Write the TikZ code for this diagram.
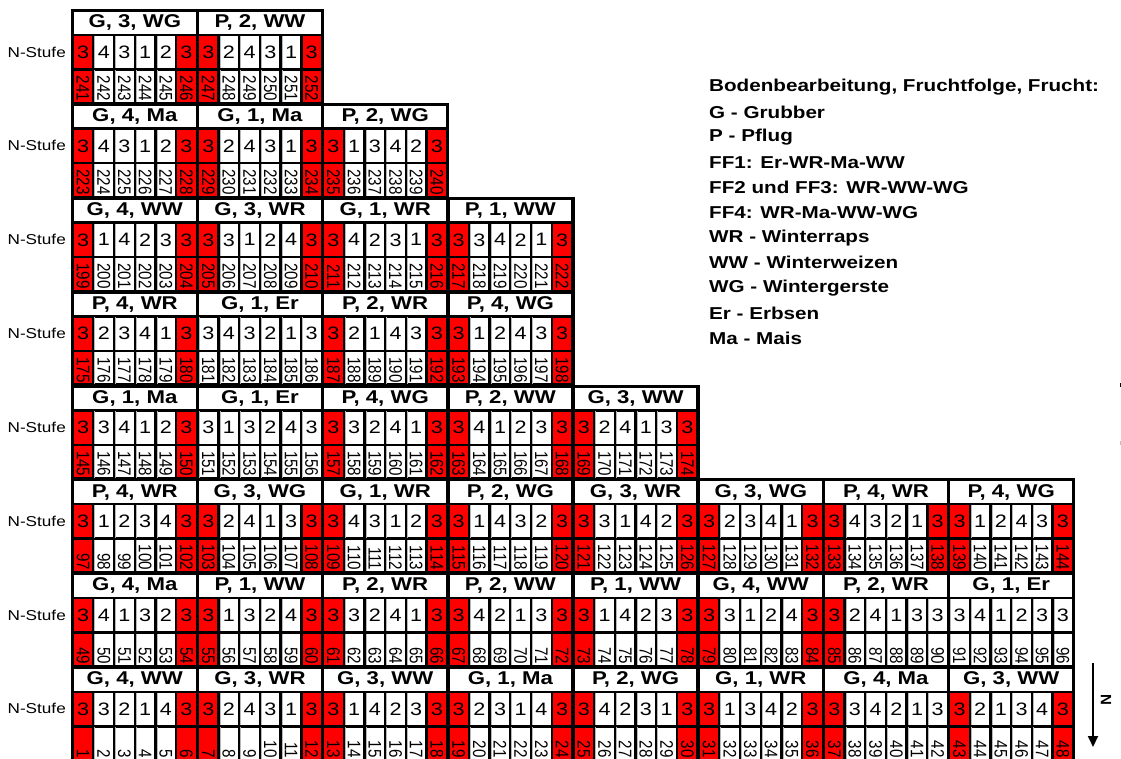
\documentclass[tikz,border=0pt]{standalone}
\usepackage{fontspec}
\setmainfont{Liberation Sans}
\newfontfamily\hdfont{Liberation Sans}[FakeStretch=1.2]
\newfontfamily\numfont{Liberation Sans}[FakeStretch=0.8333]
\usetikzlibrary{arrows.meta}
\definecolor{plotred}{RGB}{255,0,0}

\tikzset{
  tierbg/.style={fill=black},
  hdr/.style={fill=white, inner sep=0pt, minimum width=121.6pt, minimum height=21.5pt,
    anchor=north west, font=\hdfont\bfseries\fontsize{18.5}{18.5}\selectfont},
  ncell/.style={inner sep=0pt, minimum width=18.2pt, minimum height=32pt,
    anchor=north west, font=\hdfont\fontsize{18}{18}\selectfont},
  pcell/.style={inner sep=0pt, minimum width=18.2pt, minimum height=31.3pt, anchor=north west},
  pnum/.style={rotate=-90, anchor=east, inner sep=0pt, font=\numfont\fontsize{18.2}{18.2}\selectfont},
  nlab/.style={anchor=east, inner sep=0pt, font=\hdfont\fontsize{14.3}{14.3}\selectfont},
  legend/.style={anchor=west, inner sep=0pt, font=\hdfont\bfseries\fontsize{17.2}{17.2}\selectfont},
  shade/.style={draw=gray!55, line width=0.8pt},
}

% #1 row from top, #2 block index, #3 first plot number, #4 tillage, #5 FF, #6 crop, #7 cells
\newcommand\plotblock[7]{%
  \pgfmathsetmacro\bx{73.8+125.2*#2}%
  \pgfmathsetmacro\hy{11.9+93.85*#1}%
  \node[hdr] (h#3) at (\bx,\hy) {#4, #5, #6};
  \foreach \dg/\rd [count=\j from 0] in {#7} {
    \pgfmathtruncatemacro\pn{#3+\j}
    \pgfmathsetmacro\cx{\bx+20.68*\j}
    \ifnum\rd=1 \def\cf{plotred}\else\def\cf{white}\fi
    \node[ncell, fill=\cf] (n\pn) at (\cx,\hy+24) {\dg};
    \node[pcell, fill=\cf] (p\pn) at (\cx,\hy+58.5) {};
    \ifnum\rd=0
      \draw[shade] ([xshift=0.4pt]n\pn.north west) -- ([xshift=0.4pt]n\pn.south west);
      \draw[shade] ([xshift=0.4pt]p\pn.north west) -- ([xshift=0.4pt]p\pn.south west);
    \fi
    \node[pnum] (t\pn) at ([yshift=1pt]p\pn.south) {\pn};
  }
}
% #1 row from top, #2 number of blocks
\newcommand\tierback[2]{%
  \pgfmathsetmacro\hy{11.9+93.85*#1}%
  \fill[tierbg] (71,\hy-2.8) rectangle (73.7+125.2*#2,\hy+94);
  \node[nlab] (ns#1) at (66,\hy+40) {N-Stufe};
}

\begin{document}
\begin{tikzpicture}[x=1pt,y=-1pt]
\useasboundingbox (0,0) rectangle (1121,758);
\clip (0,0) rectangle (1121,758);

\tierback{0}{2}
\tierback{1}{3}
\tierback{2}{4}
\tierback{3}{4}
\tierback{4}{5}
\tierback{5}{8}
\tierback{6}{8}
\tierback{7}{8}

% row 0 (top)
\plotblock{0}{0}{241}{G}{3}{WG}{3/1,4/0,3/0,1/0,2/0,3/1}
\plotblock{0}{1}{247}{P}{2}{WW}{3/1,2/0,4/0,3/0,1/0,3/1}
% row 1
\plotblock{1}{0}{223}{G}{4}{Ma}{3/1,4/0,3/0,1/0,2/0,3/1}
\plotblock{1}{1}{229}{G}{1}{Ma}{3/1,2/0,4/0,3/0,1/0,3/1}
\plotblock{1}{2}{235}{P}{2}{WG}{3/1,1/0,3/0,4/0,2/0,3/1}
% row 2
\plotblock{2}{0}{199}{G}{4}{WW}{3/1,1/0,4/0,2/0,3/0,3/1}
\plotblock{2}{1}{205}{G}{3}{WR}{3/1,3/0,1/0,2/0,4/0,3/1}
\plotblock{2}{2}{211}{G}{1}{WR}{3/1,4/0,2/0,3/0,1/0,3/1}
\plotblock{2}{3}{217}{P}{1}{WW}{3/1,3/0,4/0,2/0,1/0,3/1}
% row 3
\plotblock{3}{0}{175}{P}{4}{WR}{3/1,2/0,3/0,4/0,1/0,3/1}
\plotblock{3}{1}{181}{G}{1}{Er}{3/0,4/0,3/0,2/0,1/0,3/0}
\plotblock{3}{2}{187}{P}{2}{WR}{3/1,2/0,1/0,4/0,3/0,3/1}
\plotblock{3}{3}{193}{P}{4}{WG}{3/1,1/0,2/0,4/0,3/0,3/1}
% row 4
\plotblock{4}{0}{145}{G}{1}{Ma}{3/1,3/0,4/0,1/0,2/0,3/1}
\plotblock{4}{1}{151}{G}{1}{Er}{3/0,1/0,3/0,2/0,4/0,3/0}
\plotblock{4}{2}{157}{P}{4}{WG}{3/1,3/0,2/0,4/0,1/0,3/1}
\plotblock{4}{3}{163}{P}{2}{WW}{3/1,4/0,1/0,2/0,3/0,3/1}
\plotblock{4}{4}{169}{G}{3}{WW}{3/1,2/0,4/0,1/0,3/0,3/1}
% row 5
\plotblock{5}{0}{97}{P}{4}{WR}{3/1,1/0,2/0,3/0,4/0,3/1}
\plotblock{5}{1}{103}{G}{3}{WG}{3/1,2/0,4/0,1/0,3/0,3/1}
\plotblock{5}{2}{109}{G}{1}{WR}{3/1,4/0,3/0,1/0,2/0,3/1}
\plotblock{5}{3}{115}{P}{2}{WG}{3/1,1/0,4/0,3/0,2/0,3/1}
\plotblock{5}{4}{121}{G}{3}{WR}{3/1,3/0,1/0,4/0,2/0,3/1}
\plotblock{5}{5}{127}{G}{3}{WG}{3/1,2/0,3/0,4/0,1/0,3/1}
\plotblock{5}{6}{133}{P}{4}{WR}{3/1,4/0,3/0,2/0,1/0,3/1}
\plotblock{5}{7}{139}{P}{4}{WG}{3/1,1/0,2/0,4/0,3/0,3/1}
% row 6
\plotblock{6}{0}{49}{G}{4}{Ma}{3/1,4/0,1/0,3/0,2/0,3/1}
\plotblock{6}{1}{55}{P}{1}{WW}{3/1,1/0,3/0,2/0,4/0,3/1}
\plotblock{6}{2}{61}{P}{2}{WR}{3/1,3/0,2/0,4/0,1/0,3/1}
\plotblock{6}{3}{67}{P}{2}{WW}{3/1,4/0,2/0,1/0,3/0,3/1}
\plotblock{6}{4}{73}{P}{1}{WW}{3/1,1/0,4/0,2/0,3/0,3/1}
\plotblock{6}{5}{79}{G}{4}{WW}{3/1,3/0,1/0,2/0,4/0,3/1}
\plotblock{6}{6}{85}{P}{2}{WR}{3/1,2/0,4/0,1/0,3/0,3/0}
\plotblock{6}{7}{91}{G}{1}{Er}{3/0,4/0,1/0,2/0,3/0,3/0}
% row 7 (bottom)
\plotblock{7}{0}{1}{G}{4}{WW}{3/1,3/0,2/0,1/0,4/0,3/1}
\plotblock{7}{1}{7}{G}{3}{WR}{3/1,2/0,4/0,3/0,1/0,3/1}
\plotblock{7}{2}{13}{G}{3}{WW}{3/1,1/0,4/0,2/0,3/0,3/1}
\plotblock{7}{3}{19}{G}{1}{Ma}{3/1,2/0,3/0,1/0,4/0,3/1}
\plotblock{7}{4}{25}{P}{2}{WG}{3/1,4/0,2/0,3/0,1/0,3/1}
\plotblock{7}{5}{31}{G}{1}{WR}{3/1,1/0,3/0,4/0,2/0,3/1}
\plotblock{7}{6}{37}{G}{4}{Ma}{3/1,3/0,4/0,2/0,1/0,3/0}
\plotblock{7}{7}{43}{G}{3}{WW}{3/1,2/0,1/0,3/0,4/0,3/1}

% legend
\node[legend] (l0) at (709,87) {Bodenbearbeitung, Fruchtfolge, Frucht:};
\node[legend] (l1) at (709,112.1) {G - Grubber};
\node[legend] (l2) at (709,137.2) {P - Pflug};
\node[legend] (l3) at (709,162.3) {FF1: Er-WR-Ma-WW};
\node[legend] (l4) at (709,187.4) {FF2 und FF3: WR-WW-WG};
\node[legend] (l5) at (709,212.5) {FF4: WR-Ma-WW-WG};
\node[legend] (l6) at (709,237.6) {WR - Winterraps};
\node[legend] (l7) at (709,262.7) {WW - Winterweizen};
\node[legend] (l8) at (709,287.8) {WG - Wintergerste};
\node[legend] (l9) at (709,312.9) {Er - Erbsen};
\node[legend] (l10) at (709,338) {Ma - Mais};

% north arrow
\coordinate (ntop) at (1093,663);
\coordinate (ntip) at (1093,747);
\draw[line width=1.8pt, -{Triangle[width=10pt,length=11pt]}] (ntop) -- (ntip);
\node[rotate=-90, inner sep=0pt, font=\bfseries\fontsize{15}{15}\selectfont] (nlabel) at (1106,700) {N};

% edge marks
\fill (1120,383) rectangle (1121,387);
\fill[gray!50] (1120,441) rectangle (1121,445);
\end{tikzpicture}
\end{document}
